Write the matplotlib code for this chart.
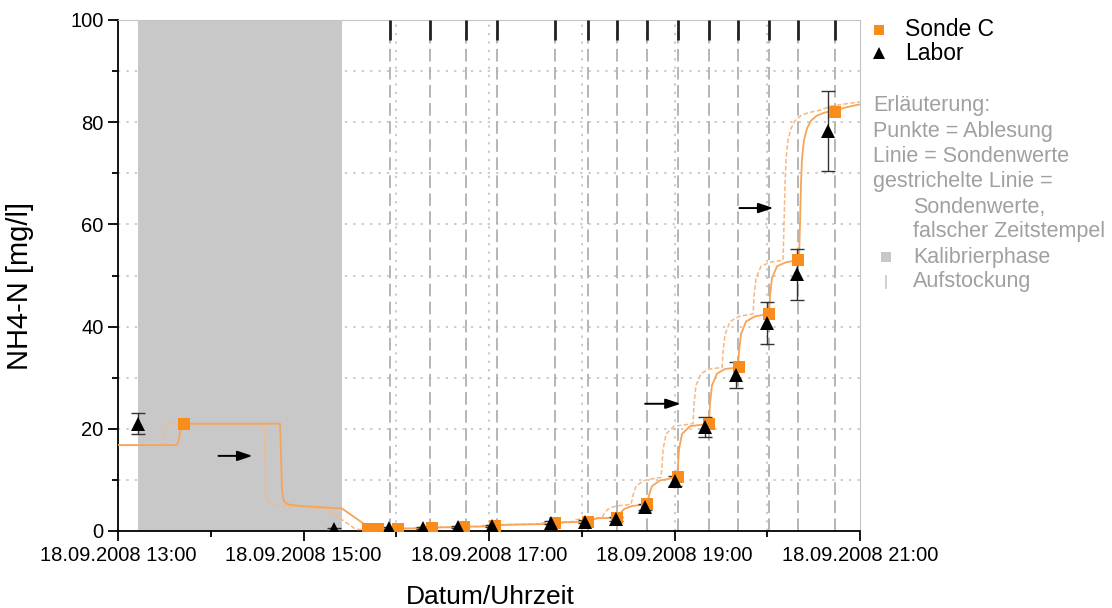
import matplotlib.pyplot as plt
from matplotlib.ticker import MultipleLocator, FixedLocator

plt.rcParams['font.family'] = ['Liberation Sans', 'DejaVu Sans']


def hours(s):
    h, m = s.split(':')
    return int(h) + int(m) / 60.0


# Laborwerte (18.09.2008)
labor_time = ['13:13', '15:20', '15:55', '16:17', '16:40', '17:02', '17:40', '18:02',
              '18:22', '18:41', '19:00', '19:20', '19:40', '20:00', '20:19', '20:39']
labor_nh4 = [21.0, 0.3, 0.5, 0.6, 0.8, 1.0, 1.6, 1.8, 2.4, 4.7, 9.8, 20.4, 30.5, 40.7, 50.2, 78.3]
labor_err = [2.0, 0.2, 0.2, 0.2, 0.2, 0.2, 0.3, 0.3, 0.4, 0.6, 1.0, 2.0, 2.5, 4.2, 5.0, 7.8]

# Ablesungen Sonde C
sonde_time = ['13:43', '15:42', '15:48', '16:01', '16:23', '16:44', '17:04', '17:43', '18:04',
              '18:23', '18:42', '19:02', '19:22', '19:42', '20:01', '20:20', '20:44']
sonde_nh4 = [21.0, 0.3, 0.3, 0.3, 0.5, 0.8, 0.9, 1.5, 1.8, 2.6, 5.2, 10.5, 21.0, 32.0, 42.5, 53.0, 82.0]

# Sondenwerte (Stunden, mg/l)
line_t = [13.000, 13.636, 13.658, 13.679, 13.712, 14.747, 14.757, 14.768, 14.790, 14.833,
          14.962, 15.415, 15.739, 15.933, 15.954, 16.019, 16.364, 16.385, 16.429, 16.752,
          16.774, 17.086, 17.108, 17.173, 17.722, 17.744, 17.819, 18.067, 18.089, 18.175,
          18.391, 18.412, 18.456, 18.542, 18.704, 18.725, 18.757, 18.844, 19.027, 19.038,
          19.049, 19.081, 19.167, 19.372, 19.383, 19.404, 19.458, 19.544, 19.685, 19.695,
          19.717, 19.771, 19.868, 20.019, 20.030, 20.051, 20.105, 20.202, 20.342, 20.353,
          20.364, 20.375, 20.396, 20.429, 20.472, 20.536, 20.623, 20.730, 20.871, 21.000]
line_nh4 = [16.8, 16.8, 18.0, 20.5, 21.0, 21.0, 15.0, 8.0, 5.8, 5.2,
            4.9, 4.4, 0.3, 0.3, 0.45, 0.5, 0.5, 0.6, 0.7, 0.75,
            0.85, 0.9, 1.1, 1.2, 1.4, 1.6, 1.7, 1.8, 2.1, 2.5,
            2.6, 3.4, 4.3, 4.9, 5.2, 7.0, 8.8, 9.9, 10.5, 13.0,
            16.0, 19.0, 20.5, 21.0, 25.0, 28.5, 30.8, 31.7, 32.0, 35.0,
            38.5, 41.0, 42.0, 42.5, 46.0, 49.5, 51.8, 52.6, 53.0, 60.0,
            68.0, 73.0, 76.5, 78.8, 80.3, 81.3, 81.9, 82.3, 83.0, 83.5]

# Sondenwerte mit falschem Zeitstempel
dash_t = [13.000, 13.464, 13.486, 13.507, 13.540, 14.575, 14.585, 14.596, 14.618, 14.661,
          14.790, 15.243, 15.567, 15.761, 15.782, 15.847, 16.192, 16.213, 16.257, 16.580,
          16.602, 16.914, 16.936, 17.001, 17.550, 17.572, 17.647, 17.895, 17.917, 18.003,
          18.219, 18.240, 18.284, 18.370, 18.532, 18.553, 18.585, 18.672, 18.855, 18.866,
          18.877, 18.909, 18.995, 19.200, 19.211, 19.232, 19.286, 19.372, 19.513, 19.523,
          19.545, 19.599, 19.696, 19.847, 19.858, 19.879, 19.933, 20.030, 20.170, 20.181,
          20.192, 20.203, 20.224, 20.257, 20.300, 20.364, 20.451, 20.558, 20.700, 21.000]
dash_nh4 = [16.8, 16.8, 18.0, 20.5, 21.0, 21.0, 15.0, 8.0, 5.8, 5.2,
            4.9, 4.4, 0.3, 0.3, 0.45, 0.5, 0.5, 0.6, 0.7, 0.75,
            0.85, 0.9, 1.1, 1.2, 1.4, 1.6, 1.7, 1.8, 2.1, 2.5,
            2.6, 3.4, 4.3, 4.9, 5.2, 7.0, 8.8, 9.9, 10.5, 13.0,
            16.0, 19.0, 20.5, 21.0, 25.0, 28.5, 30.8, 31.7, 32.0, 35.0,
            38.5, 41.0, 42.0, 42.5, 46.0, 49.5, 51.8, 52.6, 53.0, 60.0,
            68.0, 73.0, 76.5, 78.8, 80.3, 81.3, 81.9, 82.3, 83.2, 84.0]

# Aufstockungen
spike_time = ['15:56', '16:22', '16:45', '17:05', '17:43', '18:04', '18:23',
              '18:42', '19:02', '19:22', '19:41', '20:01', '20:20', '20:44']

calib_start, calib_end = '13:13', '15:25'

# Pfeile: Verschiebung des Zeitstempels
arrows = [('14:05', '14:27', 14.7), ('18:41', '19:04', 24.9), ('19:42', '20:04', 63.2)]

orange = '#f98c1a'
line_col = '#f7a458'
dash_col = '#f8b880'
legend_gray = '#a0a0a0'

fig = plt.figure(figsize=(11.12, 6.08), dpi=100)
ax = fig.add_axes([118 / 1112, 1 - 531 / 608, (860 - 118) / 1112, (531 - 20) / 608])

ax.set_xlim(13, 21)
ax.set_ylim(0, 100)

# Gitter
for y in range(10, 100, 10):
    ax.axhline(y, color='#bdbdbd', lw=1.1, ls=(0, (1.5, 4)), zorder=0)
for h in range(14, 21):
    ax.axvline(h, color='#bdbdbd', lw=1.1, ls=(0, (1.5, 4)), zorder=0)

# Kalibrierphase
ax.axvspan(hours(calib_start), hours(calib_end), color='#c8c8c8', lw=0, zorder=1)

# Aufstockungen
for s in spike_time:
    t = hours(s)
    ax.axvline(t, color='#b0b0b0', lw=1.3, ls=(0, (7, 3)), zorder=2)
    ax.plot([t, t], [96, 100], color='#222222', lw=2, solid_capstyle='butt', zorder=3)

ax.plot(dash_t, dash_nh4, color=dash_col, lw=1.1, ls=(0, (3, 1.5)), zorder=4)
ax.plot(line_t, line_nh4, color=line_col, lw=1.3, zorder=5)

ax.errorbar([hours(s) for s in labor_time], labor_nh4, yerr=labor_err, fmt='none',
            ecolor='#333333', elinewidth=1, capsize=5, capthick=1, zorder=6)
ax.plot([hours(s) for s in sonde_time], sonde_nh4, 's', color=orange, ms=8, mew=0, zorder=7)
ax.plot([hours(s) for s in labor_time], labor_nh4, '^', color='black', ms=10, mew=0, zorder=8)

for a, b, y in arrows:
    ax.annotate('', xy=(hours(b), y), xytext=(hours(a), y),
                arrowprops=dict(arrowstyle='-|>,head_length=0.9,head_width=0.3',
                                color='black', lw=1.4, shrinkA=0, shrinkB=0), zorder=9)

# Achsen
for side in ['top', 'right']:
    ax.spines[side].set_color('#c4c4c4')
for side in ['left', 'bottom']:
    ax.spines[side].set_color('black')
    ax.spines[side].set_linewidth(1.3)

ax.xaxis.set_major_locator(FixedLocator([13, 15, 17, 19, 21]))
ax.xaxis.set_minor_locator(FixedLocator([14, 16, 18, 20]))
ax.set_xticklabels(['18.09.2008 %d:00' % h for h in [13, 15, 17, 19, 21]])
ax.yaxis.set_major_locator(MultipleLocator(20))
ax.yaxis.set_minor_locator(MultipleLocator(10))
ax.tick_params(which='major', direction='out', length=7.5, width=1.3, labelsize=14.5, pad=3)
ax.tick_params(which='minor', direction='out', length=4, width=1.3)
ax.tick_params(top=False, right=False, which='both')

ax.set_xlabel('Datum/Uhrzeit', fontsize=19)
ax.set_ylabel('NH4-N [mg/l]', fontsize=21)
ax.xaxis.set_label_coords(0.502, -0.105)
ax.yaxis.set_label_coords(-0.113, 0.48)

# Legende und Erläuterung rechts
lax = fig.add_axes([0, 0, 1, 1])
lax.set_xlim(0, 1112)
lax.set_ylim(608, 0)
lax.axis('off')

lax.plot(879, 30, 's', color=orange, ms=7, mew=0)
lax.text(905, 30, 'Sonde C', fontsize=16.5, va='center', color='black')
lax.plot(879, 53, '^', color='black', ms=9, mew=0)
lax.text(905, 54, 'Labor', fontsize=16.5, va='center', color='black')

notes = [(873, 105, 'Erläuterung:'), (873, 131, 'Punkte = Ablesung'),
         (873, 156, 'Linie = Sondenwerte'), (873, 182, 'gestrichelte Linie ='),
         (913, 207, 'Sondenwerte,'), (913, 232, 'falscher Zeitstempel'),
         (913, 257, 'Kalibrierphase'), (913, 282, 'Aufstockung')]
for x, y, s in notes:
    lax.text(x, y, s, fontsize=15.5, va='center', color=legend_gray)
lax.plot(886, 257, 's', color='#c8c8c8', ms=7, mew=0)
lax.plot([886, 886], [276, 288], color='#c8c8c8', lw=1.2)

fig.savefig('out.png', dpi=100)
